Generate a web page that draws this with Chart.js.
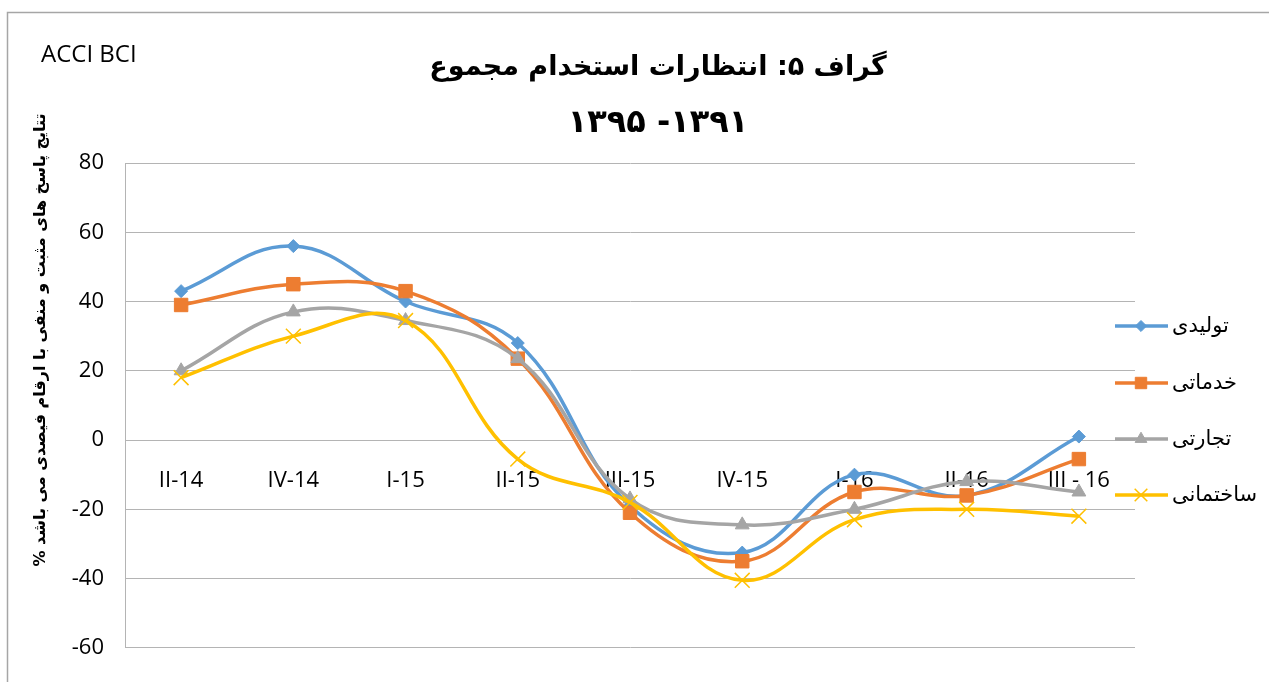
<!DOCTYPE html>
<html>
<head>
<meta charset="utf-8">
<script src="https://cdn.jsdelivr.net/npm/chart.js@4/dist/chart.umd.min.js"></script>
<style>
  html, body { margin: 0; padding: 0; background: #fff; }
  #wrap { width: 1269px; height: 682px; }
</style>
</head>
<body>
<div id="wrap"><canvas id="chart" width="1269" height="682"></canvas></div>
<script>
// Data
var quarters = ['II-14', 'IV-14', 'I-15', 'II-15', 'III-15', 'IV-15', 'I-16', 'II-16', 'III - 16'];
var seriesNames = ['تولیدی', 'خدماتی', 'تجارتی', 'ساختمانی'];
var tolidi = [43, 56, 40, 28, -19, -32.5, -10, -16, 1];
var khadamati = [39, 45, 43, 23.5, -21, -35, -15, -16, -5.5];
var tejarati = [20, 37, 34.5, 23.5, -17, -24.5, -20, -12, -15];
var sakhtemani = [18, 30, 34.5, -5.5, -18, -40.5, -23, -20, -22];
var yTicks = [-60, -40, -20, 0, 20, 40, 60, 80];

var titleLine1 = 'گراف ۵: انتظارات استخدام مجموع';
// LRO ... PDF keeps the years in the shown order
var titleLine2 = '\u202D۱۳۹۵ -۱۳۹۱\u202C';
var sourceText = 'ACCI BCI';
var yTitle = '% تتایج پاسخ های مثبت و منفی با ارقام فیصدی می باشد';

var colors = ['#5B9BD5', '#ED7D31', '#A5A5A5', '#FFC000'];
var styles = ['rectRot', 'rect', 'triangle', 'crossRot'];
var radii = [6.5, 9.5, 8, 10.5];

function makeSet(i, values) {
  return {
    label: seriesNames[i],
    data: values,
    borderColor: colors[i],
    backgroundColor: colors[i],
    borderWidth: 3.5,
    tension: 0.4,
    pointStyle: styles[i],
    pointRadius: radii[i],
    pointBorderWidth: i === 3 ? 1.5 : 1,
    pointBackgroundColor: colors[i],
    pointBorderColor: colors[i],
    order: 3 - i
  };
}

// Frame, titles and legend
var decor = {
  id: 'decor',
  beforeDraw: function (chart) {
    var ctx = chart.ctx;
    ctx.save();
    ctx.strokeStyle = '#a6a6a6';
    ctx.lineWidth = 1.5;
    ctx.strokeRect(7.5, 12.5, 1300, 700);
    ctx.restore();
  },
  afterDraw: function (chart) {
    var ctx = chart.ctx;
    ctx.save();
    ctx.fillStyle = '#000';
    ctx.textAlign = 'center';
    ctx.textBaseline = 'middle';
    ctx.direction = 'ltr';
    ctx.font = 'bold 27px "DejaVu Sans"';
    ctx.fillText(titleLine1, 658, 68);
    ctx.font = 'bold 32px "DejaVu Sans"';
    ctx.fillText(titleLine2, 658, 124);

    ctx.textAlign = 'left';
    ctx.font = '24px "Open Sans"';
    ctx.fillText(sourceText, 41, 55);

    ctx.save();
    ctx.translate(41, 340);
    ctx.rotate(-Math.PI / 2);
    ctx.textAlign = 'center';
    ctx.font = 'bold 16px "DejaVu Sans"';
    ctx.fillText(yTitle, 0, 0);
    ctx.restore();

    // legend
    var rows = [326, 383, 439, 495];
    chart.data.datasets.forEach(function (ds, i) {
      var y = rows[i];
      ctx.strokeStyle = ds.borderColor;
      ctx.lineWidth = 3.5;
      ctx.beginPath();
      ctx.moveTo(1115, y);
      ctx.lineTo(1168, y);
      ctx.stroke();
      ctx.fillStyle = ds.pointBackgroundColor;
      ctx.strokeStyle = ds.pointBorderColor;
      ctx.lineWidth = ds.pointBorderWidth;
      Chart.helpers.drawPoint(ctx, {
        pointStyle: ds.pointStyle, radius: ds.pointRadius * 0.85,
        borderWidth: ds.pointBorderWidth, rotation: 0
      }, 1141, y);
      ctx.fillStyle = '#000';
      ctx.textAlign = 'left';
      ctx.textBaseline = 'middle';
      ctx.font = '21px "DejaVu Sans"';
      ctx.fillText(ds.label, 1172, y + 1);
    });
    ctx.restore();
  }
};

new Chart(document.getElementById('chart'), {
  type: 'line',
  data: {
    labels: quarters,
    datasets: [makeSet(0, tolidi), makeSet(1, khadamati), makeSet(2, tejarati), makeSet(3, sakhtemani)]
  },
  options: {
    responsive: false,
    animation: false,
    layout: { padding: { top: 163, right: 134, bottom: 30, left: 0 } },
    plugins: {
      legend: { display: false },
      title: { display: false },
      tooltip: { enabled: false }
    },
    scales: {
      x: {
        position: { y: 0 },
        offset: true,
        grid: { display: false },
        border: { display: false },
        ticks: { color: '#000', padding: 20, maxRotation: 0, autoSkip: false,
                 font: { family: 'Open Sans', size: 22 } },
        afterFit: function (scale) { scale.height = 0; }
      },
      y: {
        min: -60,
        max: 80,
        afterBuildTicks: function (scale) {
          scale.ticks = yTicks.map(function (v) { return { value: v }; });
        },
        grid: { color: '#b4b4b4', lineWidth: 1, drawTicks: false },
        border: { display: true, color: '#b4b4b4', width: 1 },
        ticks: { color: '#000', padding: 21, font: { family: 'Open Sans', size: 22 } },
        afterFit: function (scale) { scale.width = 125; }
      }
    }
  },
  plugins: [decor]
});
</script>
</body>
</html>
